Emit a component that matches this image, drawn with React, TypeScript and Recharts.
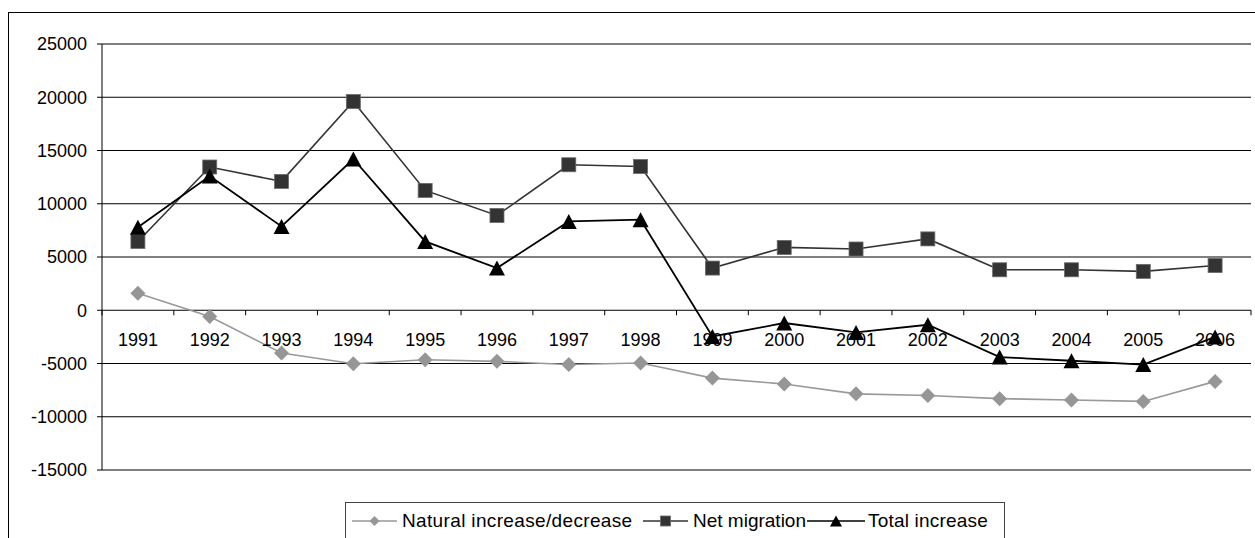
import { LineChart, Line, XAxis, YAxis, CartesianGrid, Legend } from 'recharts'

// values
const years = ['1991', '1992', '1993', '1994', '1995', '1996', '1997', '1998', '1999', '2000', '2001', '2002', '2003', '2004', '2005', '2006']
const naturalIncrease = [1600, -580, -4020, -5020, -4650, -4800, -5100, -4960, -6370, -6930, -7850, -8000, -8300, -8430, -8560, -6680]
const netMigration = [6460, 13450, 12100, 19600, 11250, 8900, 13660, 13500, 3960, 5900, 5750, 6700, 3800, 3800, 3650, 4200]
const totalIncrease = [7800, 12600, 7870, 14200, 6460, 3960, 8340, 8500, -2460, -1200, -2080, -1360, -4400, -4740, -5100, -2500]
const yTicks = [-15000, -10000, -5000, 0, 5000, 10000, 15000, 20000, 25000]

const Y_MIN = -15000
const Y_MAX = 25000

const data = years.map((year, i) => ({
  year,
  natural: naturalIncrease[i],
  migration: netMigration[i],
  total: totalIncrease[i],
}))

const CHART_W = 1245
const CHART_H = 530
const MARGIN = { top: 31, right: 3, bottom: 43, left: 33 }
const Y_AXIS_W = 60
const X_AXIS_H = 30
const PLOT_W = CHART_W - MARGIN.left - MARGIN.right - Y_AXIS_W
const PLOT_H = CHART_H - MARGIN.top - MARGIN.bottom - X_AXIS_H
// half a category: points sit in the middle of their slot, like Excel
const HALF_BAND = PLOT_W / years.length / 2

const FONT = '"Liberation Sans", Arial, sans-serif'

const Diamond = ({ cx, cy, r = 7.5 }: any) => (
  <path d={`M${cx},${cy - r}L${cx + r},${cy}L${cx},${cy + r}L${cx - r},${cy}Z`} fill="#969696" />
)

const Square = ({ cx, cy, s = 7 }: any) => (
  <rect x={cx - s} y={cy - s} width={s * 2} height={s * 2} fill="#333333" stroke="#6a6a6a" strokeWidth={0.8} />
)

const Triangle = ({ cx, cy, w = 8, h = 7.5 }: any) => (
  <path d={`M${cx},${cy - h}L${cx + w},${cy + h}L${cx - w},${cy + h}Z`} fill="#000" />
)

// x axis crosses at zero, so shift labels and tick marks up from the plot bottom
const YearTick = (props: any) => {
  const { x, y, payload, index } = props
  const zeroY = y - (PLOT_H * (0 - Y_MIN)) / (Y_MAX - Y_MIN)
  return (
    <g>
      <line x1={x - HALF_BAND} x2={x - HALF_BAND} y1={zeroY} y2={zeroY + 5} stroke="#000" />
      {index === years.length - 1 && (
        <line x1={x + HALF_BAND} x2={x + HALF_BAND} y1={zeroY} y2={zeroY + 5} stroke="#000" />
      )}
      <text x={x} y={zeroY + 36} textAnchor="middle" fontSize={18} fill="#000" fontFamily={FONT}>
        {payload.value}
      </text>
    </g>
  )
}

const legendItems = [
  { label: 'Natural increase/decrease', color: '#999999', kind: 'diamond', start: 0, icon: 45, gap: 5, spacing: 0.35 },
  { label: 'Net migration', color: '#333333', kind: 'square', start: 291, icon: 45, gap: 5, spacing: 0 },
  { label: 'Total increase', color: '#000000', kind: 'triangle', start: 455, icon: 58, gap: 3, spacing: 0.2 },
]

const LegendBox = () => (
  <div
    style={{
      position: 'relative',
      width: 658,
      height: 40,
      border: '1px solid #444',
      background: '#fff',
      fontFamily: FONT,
      fontSize: 19,
      color: '#000',
    }}
  >
    {legendItems.map((item) => {
      const c = item.icon / 2
      return (
        <div
          key={item.label}
          style={{ position: 'absolute', left: 6 + item.start, top: 6, display: 'flex', alignItems: 'center', whiteSpace: 'nowrap', height: 24 }}
        >
          <svg width={item.icon} height={16}>
            <line x1={0} x2={item.icon} y1={8} y2={8} stroke={item.color} strokeWidth={1.5} />
            {item.kind === 'diamond' && <Diamond cx={c} cy={8} r={5} />}
            {item.kind === 'square' && <Square cx={c} cy={8} s={5} />}
            {item.kind === 'triangle' && <Triangle cx={c} cy={8} w={6} h={5.5} />}
          </svg>
          <span style={{ marginLeft: item.gap, letterSpacing: item.spacing }}>{item.label}</span>
        </div>
      )
    })}
  </div>
)

export default function App() {
  return (
    <div
      style={{
        position: 'fixed',
        left: 8,
        top: 12,
        width: 1262,
        height: 540,
        border: '1px solid #000',
        background: '#fff',
      }}
    >
      <LineChart width={CHART_W} height={CHART_H} data={data} margin={MARGIN} style={{ fontFamily: FONT }}>
        <CartesianGrid vertical={false} stroke="#000" />
        <XAxis
          dataKey="year"
          height={X_AXIS_H}
          padding={{ left: HALF_BAND, right: HALF_BAND }}
          axisLine={false}
          tickLine={false}
          tickSize={0}
          tickMargin={0}
          interval={0}
          tick={<YearTick />}
        />
        <YAxis
          width={Y_AXIS_W}
          domain={[Y_MIN, Y_MAX]}
          ticks={yTicks}
          interval={0}
          axisLine={{ stroke: '#000' }}
          tickLine={{ stroke: '#000' }}
          tickSize={5}
          tickMargin={10}
          tick={{ fontSize: 18, fill: '#000' }}
        />
        {/* plot-area border on the right side */}
        <YAxis
          yAxisId="frame"
          orientation="right"
          width={0}
          domain={[Y_MIN, Y_MAX]}
          tick={false}
          tickLine={false}
          axisLine={{ stroke: '#808080' }}
        />
        <Legend verticalAlign="middle" layout="horizontal" wrapperStyle={{ top: 489, left: 336, width: 'auto' }} content={<LegendBox />} />
        <Line
          dataKey="natural"
          name="Natural increase/decrease"
          stroke="#999999"
          strokeWidth={1.6}
          isAnimationActive={false}
          activeDot={false}
          dot={(p: any) => <Diamond key={`n-${p.index}`} cx={p.cx} cy={p.cy} />}
        />
        <Line
          dataKey="migration"
          name="Net migration"
          stroke="#333333"
          strokeWidth={1.6}
          isAnimationActive={false}
          activeDot={false}
          dot={(p: any) => <Square key={`m-${p.index}`} cx={p.cx} cy={p.cy} />}
        />
        <Line
          dataKey="total"
          name="Total increase"
          stroke="#000000"
          strokeWidth={1.8}
          isAnimationActive={false}
          activeDot={false}
          dot={(p: any) => <Triangle key={`t-${p.index}`} cx={p.cx} cy={p.cy} />}
        />
      </LineChart>
    </div>
  )
}
